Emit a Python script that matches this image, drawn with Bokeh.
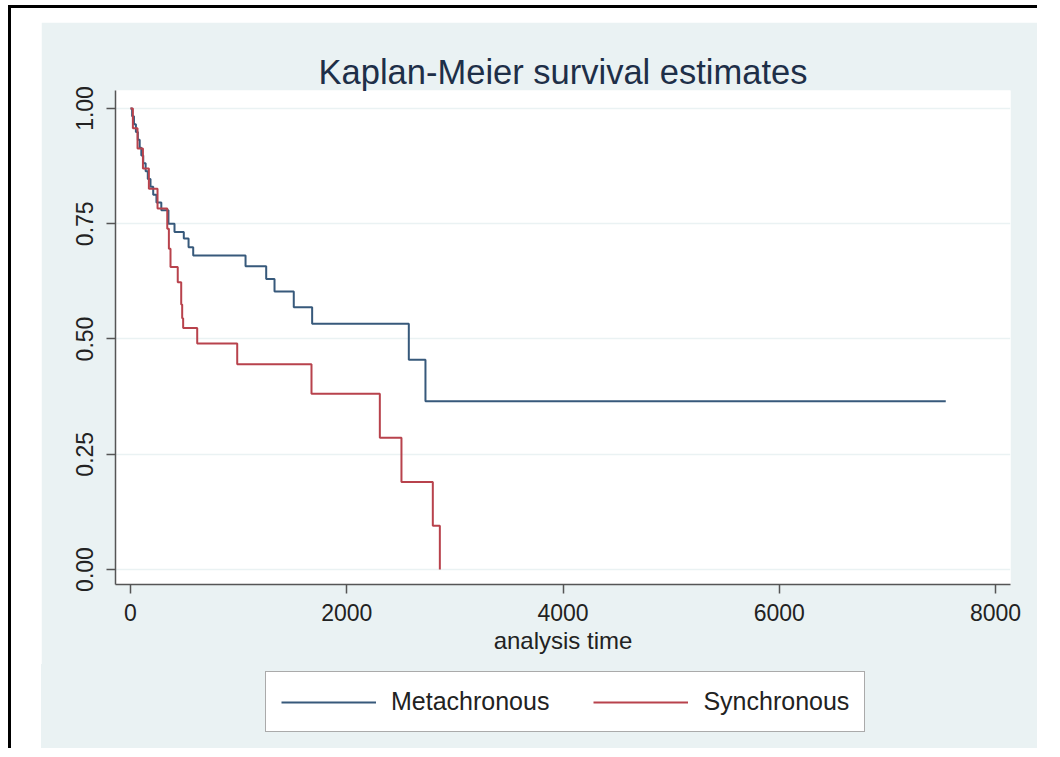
from bokeh.plotting import figure
from bokeh.layouts import column
from bokeh.models import Range1d, FixedTicker, Legend, LegendItem
from bokeh.embed import file_html
from bokeh.resources import INLINE

# ---- data ----
meta_time = [0, 15, 32, 50, 68, 85, 100, 118, 140, 160, 185, 210, 240, 285,
             351, 407, 493, 537, 580, 1064, 1255, 1332, 1510, 1680, 2574, 2728, 7540]
meta_surv = [1.0, 0.983, 0.966, 0.949, 0.932, 0.915, 0.898, 0.881, 0.864, 0.847, 0.830, 0.813, 0.796, 0.779,
             0.750, 0.732, 0.718, 0.699, 0.681, 0.658, 0.630, 0.603, 0.569, 0.533, 0.455, 0.365, 0.365]

sync_time = [0, 22, 65, 115, 170, 250, 340, 355, 370, 437, 469, 478, 487,
             617, 987, 1674, 2306, 2506, 2796, 2861]
sync_surv = [1.0, 0.957, 0.913, 0.870, 0.826, 0.783, 0.739, 0.696, 0.656, 0.623, 0.575, 0.545, 0.524,
             0.490, 0.445, 0.381, 0.286, 0.190, 0.095, 0.0]

series_names = ["Metachronous", "Synchronous"]
x_ticks = [0, 2000, 4000, 6000, 8000]
x_tick_labels = ["0", "2000", "4000", "6000", "8000"]
y_ticks = [0.0, 0.25, 0.5, 0.75, 1.0]
y_tick_labels = ["0.00", "0.25", "0.50", "0.75", "1.00"]
title_text = "Kaplan-Meier survival estimates"
x_title = "analysis time"

# ---- layout ----
FONT = "Liberation Sans"
PANEL = "#eaf2f3"
BLUE = "#37597b"
RED = "#b8424c"

# graph region spans page x 41..1037, y 22..748; plot frame x 115..1010, y 90..584
PW = 996
MAIN_H = 642          # page y 22..664
LEG_H = 748 - 664     # page y 664..748

p = figure(width=PW, height=MAIN_H, output_backend="svg", toolbar_location=None,
           x_range=Range1d(-138.7, 8138.7), y_range=Range1d(-0.0325, 1.039),
           min_border_left=74, min_border_right=27,
           min_border_top=68, min_border_bottom=MAIN_H - (584 - 22))
p.border_fill_color = PANEL
p.background_fill_color = "white"
p.outline_line_color = None
p.margin = (14, 0, 0, 30)

# curves
p.step(meta_time, meta_surv, mode="after", line_color=BLUE, line_width=2)
p.step(sync_time, sync_surv, mode="after", line_color=RED, line_width=2)

# axes
for ax in (p.xaxis[0], p.yaxis[0]):
    ax.axis_line_color = "#555555"
    ax.axis_line_width = 1.5
    ax.major_tick_line_color = "#555555"
    ax.major_tick_line_width = 1.5
    ax.major_tick_out = 9
    ax.major_tick_in = 0
    ax.minor_tick_out = 0
    ax.minor_tick_in = 0
    ax.major_label_text_font = FONT
    ax.major_label_text_font_size = "23px"
    ax.major_label_text_color = "#222222"

p.xaxis.major_label_standoff = 10
p.yaxis.major_label_standoff = 13

p.xaxis.ticker = FixedTicker(ticks=x_ticks)
p.xaxis.major_label_overrides = {t: l for t, l in zip(x_ticks, x_tick_labels)}
p.yaxis.ticker = FixedTicker(ticks=y_ticks)
p.yaxis.major_label_overrides = {t: l for t, l in zip(y_ticks, y_tick_labels)}
p.yaxis.major_label_orientation = "vertical"

p.xaxis.axis_label = x_title
p.xaxis.axis_label_text_font = FONT
p.xaxis.axis_label_text_font_size = "24px"
p.xaxis.axis_label_text_font_style = "normal"
p.xaxis.axis_label_text_color = "#222222"
p.xaxis.axis_label_standoff = 3

p.xgrid.grid_line_color = None
p.ygrid.ticker = FixedTicker(ticks=y_ticks)
p.ygrid.grid_line_color = PANEL
p.ygrid.grid_line_width = 1.5

# title
p.title.text = title_text
p.title.align = "center"
p.title.text_font = FONT
p.title.text_font_size = "34.5px"
p.title.text_font_style = "normal"
p.title.text_color = "#1e2f48"
p.title.standoff = 0

# legend strip (frame is aligned with the main frame; key renderers lie outside its range)
q = figure(width=PW, height=LEG_H, output_backend="svg", toolbar_location=None,
           x_range=Range1d(-20000, -10000), y_range=Range1d(0, 1),
           x_axis_location=None, y_axis_location=None,
           min_border_left=74, min_border_right=27, min_border_top=0, min_border_bottom=0)
q.border_fill_alpha = 0
q.background_fill_alpha = 0
q.outline_line_color = None
q.grid.grid_line_color = None
q.margin = (0, 0, 0, 30)
q.styles = {"background-color": PANEL}
k_meta = q.step(meta_time, meta_surv, mode="after", line_color=BLUE, line_width=2)
k_sync = q.step(sync_time, sync_surv, mode="after", line_color=RED, line_width=2)

legend = Legend(items=[LegendItem(label=series_names[0], renderers=[k_meta]),
                       LegendItem(label=series_names[1], renderers=[k_sync])],
                orientation="horizontal", location=(265 - 115, 748 - 732),
                label_text_font=FONT, label_text_font_size="25px", label_text_color="#222222",
                glyph_width=95, glyph_height=20, label_standoff=15, spacing=44, padding=15,
                margin=0, border_line_color="#555555", border_line_width=1.5,
                background_fill_color="white", background_fill_alpha=1)
q.add_layout(legend, "center")

root = column(p, q, margin=(5, 0, 0, 8), spacing=0,
              styles={"border-left": "3px solid black", "border-top": "3px solid black"})

open("out.html", "w").write(file_html(root, INLINE))
